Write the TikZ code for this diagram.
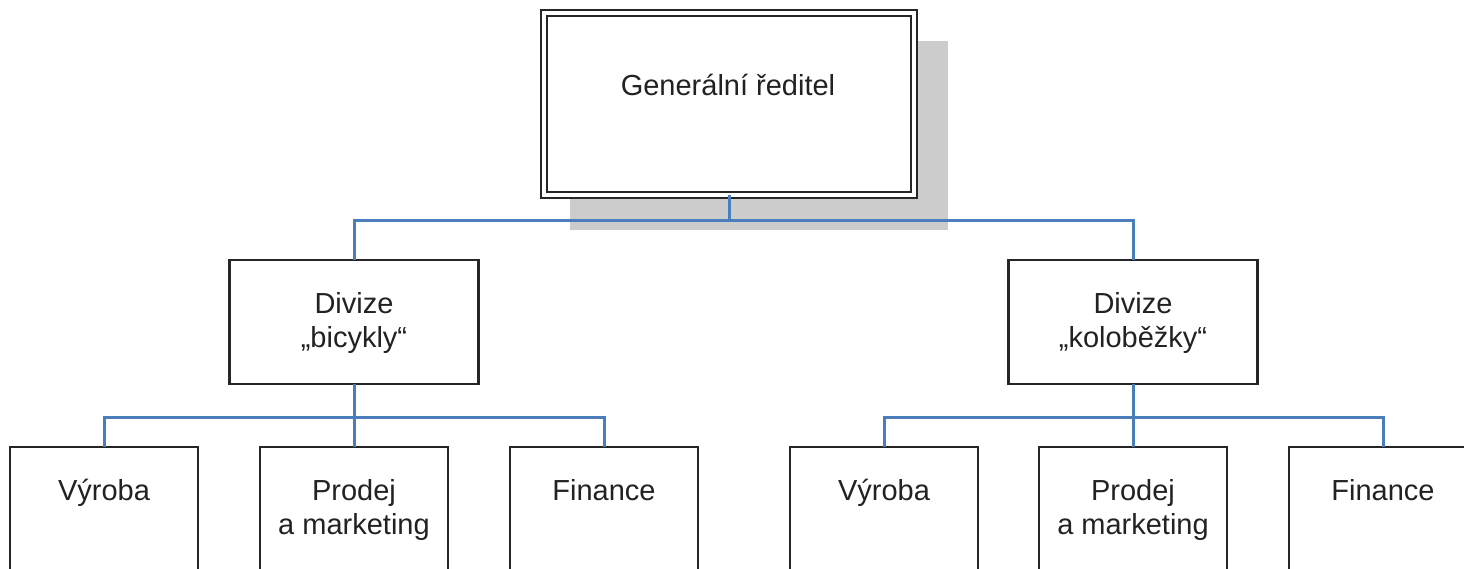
\documentclass[tikz,border=0pt]{standalone}
\usepackage{fontspec}
\setmainfont{Liberation Sans}
\definecolor{conn}{HTML}{4A7EBB}
\definecolor{boxline}{HTML}{262626}
\definecolor{shade}{HTML}{CCCCCC}
\definecolor{txt}{HTML}{222222}
\begin{document}
\begin{tikzpicture}[x=1pt,y=-1pt,
  box/.style={draw=boxline,line width=2.2pt,fill=white,inner sep=0pt,outer sep=0pt,rectangle},
  divbox/.style={box,minimum width=249pt,minimum height=124pt},
  depbox/.style={box,minimum width=188pt,minimum height=124pt},
  ceobox/.style={draw=boxline,fill=white,line width=2.5pt,double=white,double distance=3.5pt,inner sep=0pt,outer sep=0pt,
    minimum width=370pt,minimum height=182pt},
  shadowbox/.style={fill=shade},
  lbl/.style={font=\fontsize{29}{34}\selectfont,text=txt,align=center,anchor=base,inner sep=0pt},
  cline/.style={draw=conn,line width=3pt}]
\useasboundingbox (0,0) rectangle (1464,568);
% shadow of top box
\fill[shadowbox] (570,41) rectangle (948,230);
% top
\node[ceobox] (ceo) at (729,104) {};
\node[lbl] (ceot) at (728,95) {Generální ředitel};
% divisions
\node[divbox] (d1) at (354,322) {};
\node[lbl] (d1t) at (354,347) {Divize\\„bicykly“};
\node[divbox] (d2) at (1133,322) {};
\node[lbl] (d2t) at (1133,347) {Divize\\„koloběžky“};
% departments
\node[depbox] (a1) at (104,509) {};
\node[depbox] (a2) at (354,509) {};
\node[depbox] (a3) at (604,509) {};
\node[depbox] (b1) at (884,509) {};
\node[depbox] (b2) at (1133,509) {};
\node[depbox] (b3) at (1383,509) {};
\node[lbl] (a1t) at (104,500) {Výroba};
\node[lbl] (a2t) at (354,534) {Prodej\\a marketing};
\node[lbl] (a3t) at (604,500) {Finance};
\node[lbl] (b1t) at (884,500) {Výroba};
\node[lbl] (b2t) at (1133,534) {Prodej\\a marketing};
\node[lbl] (b3t) at (1383,500) {Finance};
% connectors
\coordinate (bus0) at (729,220);
\coordinate (bus1) at (354,417);
\coordinate (bus2) at (1133,417);
\draw[cline] (ceo.south) -- (bus0);
\draw[cline] (d1.north) |- (bus0) -| (d2.north);
\draw[cline] (d1.south) -- (bus1);
\draw[cline] (a1.north) |- (bus1) -| (a3.north);
\draw[cline] (bus1) -- (a2.north);
\draw[cline] (d2.south) -- (bus2);
\draw[cline] (b1.north) |- (bus2) -| (b3.north);
\draw[cline] (bus2) -- (b2.north);
\end{tikzpicture}
\end{document}
